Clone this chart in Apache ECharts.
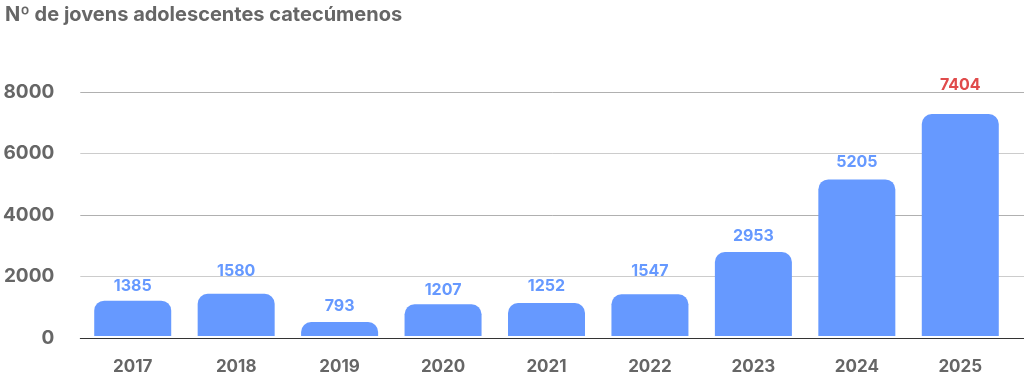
<!DOCTYPE html>
<html>
<head>
<meta charset="utf-8">
<script src="https://cdn.jsdelivr.net/npm/echarts@6/dist/echarts.min.js"></script>
<style>
html,body{margin:0;padding:0;background:#fff;}
#chart{width:1024px;height:375px;}
</style>
</head>
<body>
<div id="chart"></div>
<script>
const title = 'Nº de jovens adolescentes catecúmenos';
const years = ['2017','2018','2019','2020','2021','2022','2023','2024','2025'];
// bar heights as drawn in the picture
const barValues = [1158, 1385, 455, 1040, 1083, 1365, 2752, 5135, 7280];
// numbers printed above bars
const labelValues = [1385, 1580, 793, 1207, 1252, 1547, 2953, 5205, 7404];
const yTicks = [0, 2000, 4000, 6000, 8000];

// style: gap (px) between each bar top and its printed number
const labelGaps = [6, 15, 8, 6, 9, 15, 8, 9, 21];

const FONT = 'Inter, "Noto Sans", sans-serif';
const BLUE = '#6699ff';
const RED = '#e04b4b';
const GREY = '#666666';

const chart = echarts.init(document.getElementById('chart'), null, {renderer:'canvas'});
const yMax = yTicks[yTicks.length-1];
const yInt = yTicks[1]-yTicks[0];

chart.setOption({
  animation: false,
  backgroundColor: '#ffffff',
  title: {
    text: title, left: 0, top: 0,
    textStyle: {fontFamily: FONT, fontSize: 20, fontWeight: 700, color: GREY}
  },
  grid: [
    {left: 74, right: 0, top: 92, bottom: 37, containLabel: false},
    {left: 81, right: 12, top: 92, bottom: 37, containLabel: false}
  ],
  xAxis: [
    {gridIndex: 0, type: 'value', min: 0, max: 1, show: true,
     axisLine: {show: true, lineStyle: {color: '#333', width: 1}},
     axisTick: {show: false}, axisLabel: {show: false}, splitLine: {show: false}},
    {gridIndex: 1, type: 'category', data: years,
     axisLine: {show: false}, axisTick: {show: false},
     axisLabel: {margin: 22, fontFamily: FONT, fontSize: 17, fontWeight: 700, color: GREY}}
  ],
  yAxis: [
    {gridIndex: 0, type: 'value', min: 0, max: yMax, interval: yInt,
     axisLine: {show: false}, axisTick: {show: false},
     axisLabel: {margin: 26, fontFamily: FONT, fontSize: 19, fontWeight: 700, color: GREY,
                 formatter: v => String(v)},
     splitLine: {show: true, lineStyle: {color: ['#444', '#cccccc', '#b0b0b0', '#cccccc', '#b0b0b0'], width: 1}}},
    {gridIndex: 1, type: 'value', min: 0, max: yMax, interval: yInt, show: false,
     splitLine: {show: false}}
  ],
  series: [{
    type: 'bar', xAxisIndex: 1, yAxisIndex: 1,
    data: barValues.map((v, i) => ({
      value: v,
      label: {
        color: i === barValues.length - 1 ? RED : BLUE,
        distance: labelGaps[i]
      }
    })),
    barWidth: 77,
    itemStyle: {color: BLUE, borderRadius: [10, 10, 0, 0]},
    label: {
      show: true, position: 'top',
      fontFamily: FONT, fontSize: 16, fontWeight: 700,
      formatter: p => String(labelValues[p.dataIndex])
    }
  }]
});
</script>
</body>
</html>
